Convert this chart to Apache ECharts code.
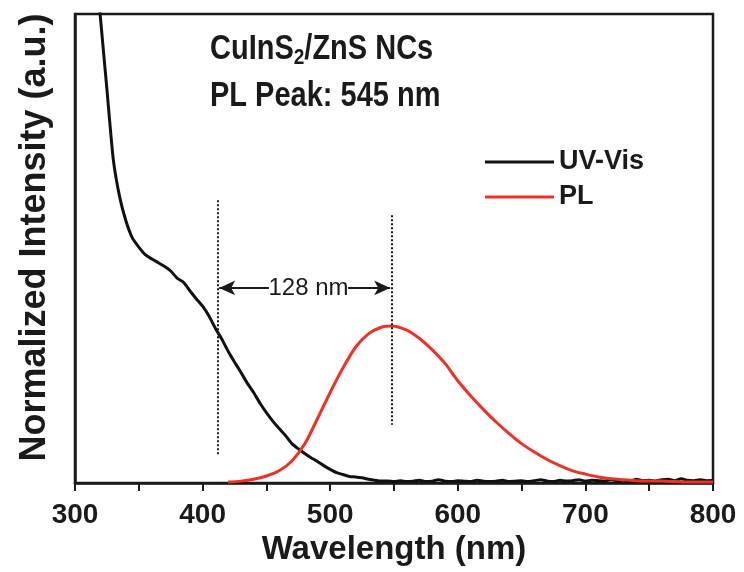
<!DOCTYPE html>
<html>
<head>
<meta charset="utf-8">
<script src="https://cdn.jsdelivr.net/npm/echarts@6/dist/echarts.min.js"></script>
<style>
	html, body { margin: 0; padding: 0; background: #fff; }
	#chart { width: 744px; height: 572px; }
</style>
</head>
<body>
<div id="chart"></div>
<script>
	// wavelength (nm) and normalized intensity
	var uvWl = [312, 315, 320, 325, 330, 335, 340, 345, 350, 355, 360, 365, 370, 375, 380, 385, 390, 395, 400,
		405, 410, 415, 420, 425, 430, 435, 440, 445, 450, 455, 460, 465, 470, 475, 480, 485, 490, 495, 500,
		505, 510, 515, 520, 525, 530, 535, 540, 545, 550, 555, 560, 565, 570, 575, 580, 585, 590, 595, 600,
		605, 610, 615, 620, 625, 630, 635, 640, 645, 650, 655, 660, 665, 670, 675, 680, 685, 690, 695, 700,
		705, 710, 715, 720, 725, 730, 735, 740, 745, 750, 755, 760, 765, 770, 775, 780, 785, 790, 795, 800];
	var uvAbs = [1.25, 1.15, 0.99, 0.84, 0.69, 0.61, 0.558, 0.522, 0.503, 0.487, 0.478, 0.470, 0.462, 0.452, 0.437, 0.428, 0.410, 0.393, 0.377,
		0.356, 0.330, 0.307, 0.281, 0.258, 0.236, 0.213, 0.193, 0.170, 0.150, 0.132, 0.116, 0.101, 0.084, 0.073, 0.063, 0.054, 0.046, 0.037, 0.029,
		0.022, 0.018, 0.014, 0.013, 0.011, 0.008, 0.006, 0.004, 0.004, 0.003, 0.005, 0.003, 0.004, 0.006, 0.003, 0.004, 0.007, 0.004, 0.003, 0.005,
		0.004, 0.003, 0.006, 0.004, 0.003, 0.004, 0.006, 0.003, 0.004, 0.005, 0.003, 0.005, 0.007, 0.004, 0.003, 0.006, 0.004, 0.005, 0.007, 0.004,
		0.006, 0.005, 0.004, 0.007, 0.005, 0.006, 0.004, 0.008, 0.005, 0.006, 0.004, 0.007, 0.008, 0.005, 0.009, 0.006, 0.005, 0.007, 0.005, 0.006];

	var plWl = [420, 430, 440, 450, 460, 470, 480, 490, 500, 510, 520, 530, 540, 548, 560, 570, 580, 590, 600,
		610, 620, 630, 640, 650, 660, 670, 680, 690, 700, 710, 720, 730, 740, 750, 760, 770, 780, 790, 800];
	var plInt = [0.002, 0.004, 0.008, 0.015, 0.026, 0.047, 0.083, 0.137, 0.193, 0.245, 0.290, 0.318, 0.332, 0.335, 0.326, 0.308, 0.284, 0.255, 0.218,
		0.186, 0.157, 0.130, 0.106, 0.084, 0.066, 0.050, 0.037, 0.026, 0.019, 0.013, 0.009, 0.007, 0.005, 0.004, 0.004, 0.003, 0.002, 0.002, 0.002];

	var xTicks = [300, 400, 500, 600, 700, 800];

	var FONT = '"Liberation Sans", Arial, sans-serif';

	function zip(a, b) {
		return a.map(function (v, i) { return [v, b[i]]; });
	}

	var chart = echarts.init(document.getElementById('chart'), null, { renderer: 'canvas' });

	var option = {
		backgroundColor: '#ffffff',
		animation: false,
		grid: {
			left: 75, right: 31, top: 14, bottom: 89,
			show: true, borderColor: '#1a1a1a', borderWidth: 2.5
		},
		legend: {
			orient: 'vertical',
			left: 480, top: 141,
			icon: 'rect',
			itemWidth: 69, itemHeight: 3, itemGap: 3,
			textStyle: { fontFamily: FONT, fontWeight: 'bold', fontSize: 27, color: '#1a1a1a', lineHeight: 32 },
			data: ['UV-Vis', 'PL']
		},
		xAxis: {
			type: 'value',
			min: xTicks[0], max: xTicks[xTicks.length - 1], interval: 100,
			name: 'Wavelength (nm)',
			nameLocation: 'middle', nameGap: 44,
			nameTextStyle: { fontFamily: FONT, fontWeight: 'bold', fontSize: 33, color: '#1a1a1a' },
			axisLine: { lineStyle: { color: '#1a1a1a', width: 2.5 } },
			axisTick: { length: 8, lineStyle: { width: 2 } },
			minorTick: { show: true, splitNumber: 2, length: 8, lineStyle: { color: '#1a1a1a', width: 2 } },
			axisLabel: { fontFamily: FONT, fontWeight: 'bold', fontSize: 28, color: '#1a1a1a', margin: 18 },
			splitLine: { show: false }
		},
		yAxis: {
			type: 'value',
			min: 0, max: 1,
			name: 'Normalized Intensity (a.u.)',
			nameLocation: 'middle', nameGap: 22,
			nameTextStyle: { fontFamily: FONT, fontWeight: 'bold', fontSize: 36, color: '#1a1a1a', padding: [0, 0, 0, 22] },
			axisLine: { show: true, lineStyle: { color: '#1a1a1a', width: 2.5 } },
			axisTick: { show: false },
			axisLabel: { show: false },
			splitLine: { show: false }
		},
		graphic: [
			{
				type: 'text', left: 210, top: 32, scaleY: 1.2,
				style: {
					text: '{a|CuInS}{s|2}{a|/ZnS NCs}',
					rich: {
						a: { fontFamily: FONT, fontWeight: 'bold', fontSize: 29, fill: '#1a1a1a' },
						s: { fontFamily: FONT, fontWeight: 'bold', fontSize: 19, fill: '#1a1a1a', padding: [14, 0, 0, 0] }
					}
				}
			},
			{
				type: 'text', left: 210, top: 79, scaleY: 1.2,
				style: { text: 'PL Peak: 545 nm', fontFamily: FONT, fontWeight: 'bold', fontSize: 29, fill: '#1a1a1a' }
			}
		],
		series: [
			{
				name: 'UV-Vis',
				type: 'line',
				data: zip(uvWl, uvAbs),
				showSymbol: false, symbol: 'none',
				smooth: 0.2,
				lineStyle: { color: '#111111', width: 3 },
				itemStyle: { color: '#111111' },
				markLine: {
					silent: true,
					symbol: 'none',
					label: { show: false },
					lineStyle: { color: '#1a1a1a', type: [2, 2], width: 2 },
					data: [
						[{ coord: [412, 0.603] }, { coord: [412, 0.058] }],
						[{ coord: [548, 0.571] }, { coord: [548, 0.124] }],
						[{ coord: [452, 0.416], symbol: 'none' },
						 { coord: [413, 0.416], symbol: 'arrow', symbolSize: [11, 16], lineStyle: { type: 'solid' } }],
						[{ coord: [514, 0.416], symbol: 'none' },
						 { coord: [547, 0.416], symbol: 'arrow', symbolSize: [11, 16], lineStyle: { type: 'solid' } }]
					]
				},
				markPoint: {
					silent: true,
					symbol: 'rect', symbolSize: 1,
					itemStyle: { color: 'rgba(0,0,0,0)' },
					label: {
						show: true, position: 'inside',
						fontFamily: FONT, fontSize: 24, color: '#1a1a1a',
						formatter: '128 nm'
					},
					data: [{ coord: [483, 0.416] }]
				}
			},
			{
				name: 'PL',
				type: 'line',
				data: zip(plWl, plInt),
				showSymbol: false, symbol: 'none',
				smooth: 0.3,
				lineStyle: { color: '#ee3124', width: 3 },
				itemStyle: { color: '#ee3124' }
			}
		]
	};

	chart.setOption(option);
	window.addEventListener('resize', function () {
		chart.resize();
	});
</script>
</body>
</html>
